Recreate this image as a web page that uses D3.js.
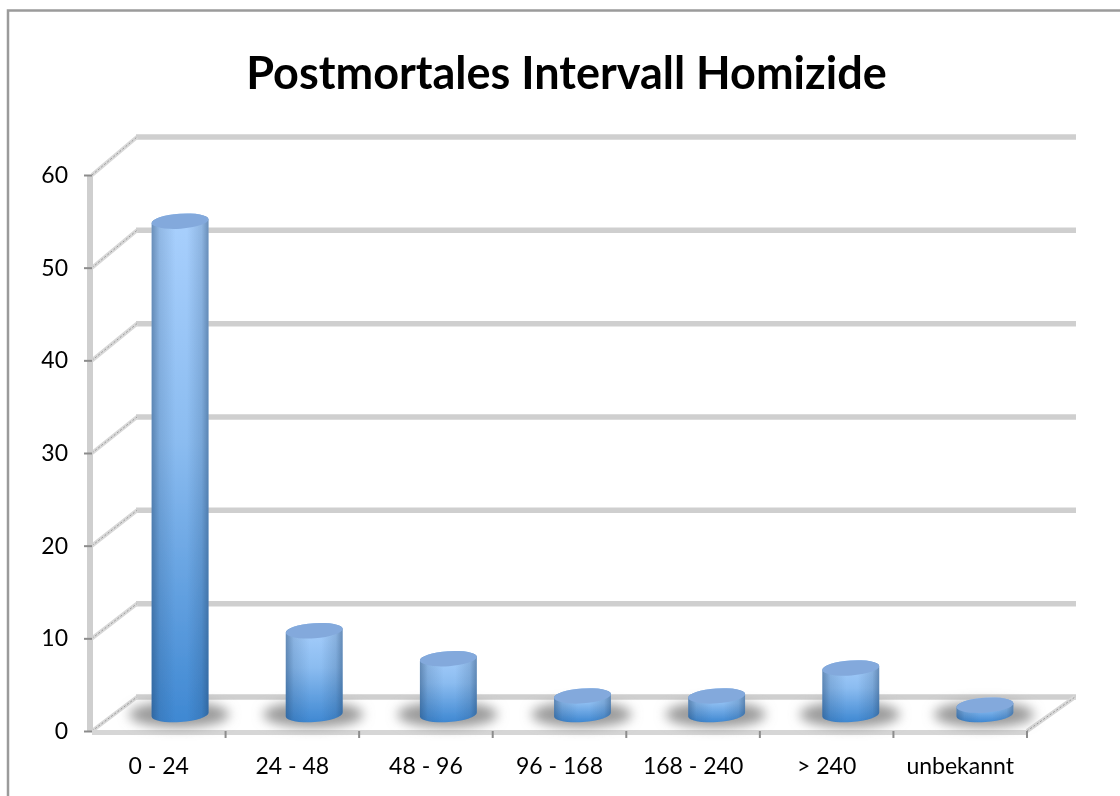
<!DOCTYPE html>
<html>
<head>
<meta charset="utf-8">
<script src="https://cdn.jsdelivr.net/npm/d3@7"></script>
<style>
    body { margin: 0; background: #fff; }
    text { font-family: Lato, "Open Sans", sans-serif; fill: #000; }
</style>
</head>
<body>
<div id="chart"></div>
<script>
// chart data
const categories = ["0 - 24", "24 - 48", "48 - 96", "96 - 168", "168 - 240", "> 240", "unbekannt"];
const values = [53, 9, 6, 2, 2, 5, 1];
const yTicks = [0, 10, 20, 30, 40, 50, 60];
const title = "Postmortales Intervall Homizide";

const WIDTH = 1120;
const HEIGHT = 796;

// the 3d box: front plane, back wall, and the plane the bars stand in
const FRONT = { left: 92, right: 1027, y0: 731, y60: 175 };
const DEPTH = { x: 45, y: -34 };
const BAR_RX = 28.5;
const BAR_RY = 7.5;
const TILT_DEG = -4;
const TILT = -TILT_DEG * Math.PI / 180;

const x = d3.scaleBand().domain(categories).range([FRONT.left, FRONT.right]);
const xMid = d3.scaleBand().domain(categories).range([113, 1052]);
const yFront = d3.scaleLinear().domain([0, 60]).range([FRONT.y0, FRONT.y60]);
const yBack = d3.scaleLinear().domain([0, 60]).range([FRONT.y0 + DEPTH.y, FRONT.y60 + DEPTH.y - 4]);
const yMid = d3.scaleLinear().domain([0, 60]).range([714.5, 156]);

const svg = d3.select("#chart").append("svg")
    .attr("width", WIDTH)
    .attr("height", HEIGHT)
    .style("display", "block");

const defs = svg.append("defs");

const addGradient = (id, x2, y2, stops) => {
    const g = defs.append("linearGradient")
        .attr("id", id)
        .attr("x1", 0).attr("y1", 0)
        .attr("x2", x2).attr("y2", y2);
    stops.forEach(s => g.append("stop")
        .attr("offset", s[0])
        .attr("stop-color", s[1])
        .attr("stop-opacity", s[2]));
};

addGradient("bodyFill", 0, 1, [[0, "#a9d0fd", 1], [0.45, "#8bbcf0", 1], [1, "#3f88d2", 1]]);
addGradient("bodyEdge", 1, 0, [
    [0, "#1d3f66", 0.45], [0.14, "#1d3f66", 0.16], [0.42, "#1d3f66", 0],
    [0.62, "#1d3f66", 0], [0.88, "#1d3f66", 0.18], [1, "#1d3f66", 0.45]
]);

defs.append("filter").attr("id", "shadowBlur")
    .attr("x", "-30%").attr("y", "-80%").attr("width", "160%").attr("height", "260%")
    .append("feGaussianBlur").attr("stdDeviation", 6);
defs.append("filter").attr("id", "soft")
    .append("feGaussianBlur").attr("stdDeviation", 0.5);
defs.append("filter").attr("id", "softText")
    .attr("x", "-5%").attr("y", "-5%").attr("width", "110%").attr("height", "110%")
    .append("feGaussianBlur").attr("stdDeviation", 0.35);

// outer frame, open on the right and at the bottom
svg.append("path")
    .attr("d", `M8,${HEIGHT}V10.5H${WIDTH}`)
    .attr("fill", "none")
    .attr("stroke", "#9b9b9b")
    .attr("stroke-width", 2.5);

svg.append("text")
    .attr("x", 566.5)
    .attr("y", 89)
    .attr("text-anchor", "middle")
    .attr("font-size", 45)
    .attr("font-weight", 700)
    .attr("filter", "url(#softText)")
    .text(title);

const grid = svg.append("g").attr("filter", "url(#soft)");

// back wall lines
grid.selectAll(".back")
    .data(yTicks)
    .enter()
    .append("line")
    .attr("class", "back")
    .attr("x1", FRONT.left + DEPTH.x - 1)
    .attr("x2", FRONT.right + DEPTH.x + 4)
    .attr("y1", d => yBack(d))
    .attr("y2", d => yBack(d))
    .attr("stroke", "#cfcfcf")
    .attr("stroke-width", 5.5);

// side wall depth lines
[["#d8d8d8", 4, null], ["#9a9a9a", 1, "2 2"]].forEach(s => {
    grid.selectAll(".depth" + s[1])
        .data(yTicks)
        .enter()
        .append("line")
        .attr("class", "depth" + s[1])
        .attr("x1", FRONT.left)
        .attr("x2", FRONT.left + DEPTH.x)
        .attr("y1", d => yFront(d))
        .attr("y2", d => yBack(d))
        .attr("stroke", s[0])
        .attr("stroke-width", s[1])
        .attr("stroke-dasharray", s[2]);

    grid.append("line")
        .attr("x1", FRONT.right)
        .attr("x2", FRONT.right + DEPTH.x + 3)
        .attr("y1", yFront(0))
        .attr("y2", yBack(0))
        .attr("stroke", s[0])
        .attr("stroke-width", s[1])
        .attr("stroke-dasharray", s[2]);
});

// front vertical wall and floor edge
grid.append("line")
    .attr("x1", FRONT.left - 2)
    .attr("x2", FRONT.left - 2)
    .attr("y1", yFront(60))
    .attr("y2", yFront(0))
    .attr("stroke", "#cfcfcf")
    .attr("stroke-width", 6);

grid.append("line")
    .attr("x1", FRONT.left)
    .attr("x2", FRONT.right)
    .attr("y1", yFront(0) + 1.5)
    .attr("y2", yFront(0) + 1.5)
    .attr("stroke", "#d6d6d6")
    .attr("stroke-width", 5);

// y axis, labels and small ticks
const yAxis = d3.axisLeft(yFront)
    .tickValues(yTicks)
    .tickSize(8)
    .tickPadding(16);

const yAxisG = svg.append("g")
    .attr("transform", `translate(${FRONT.left},0)`)
    .call(yAxis);
yAxisG.select(".domain").remove();
yAxisG.selectAll("line").attr("stroke", "#8c8c8c").attr("stroke-width", 2);
yAxisG.selectAll("text")
    .attr("font-size", 23)
    .attr("font-family", "Lato")
    .attr("fill", "#000")
    .attr("filter", "url(#softText)");

// x axis, labels centered in the band, ticks on the band edges
const xAxis = d3.axisBottom(x)
    .tickSize(0)
    .tickPadding(27);

const xAxisG = svg.append("g")
    .attr("transform", `translate(0,${FRONT.y0})`)
    .call(xAxis);
xAxisG.select(".domain").remove();
xAxisG.selectAll("text")
    .attr("font-size", 23)
    .attr("font-family", "Lato")
    .attr("fill", "#000")
    .attr("filter", "url(#softText)");

xAxisG.selectAll(".edge")
    .data(categories)
    .enter()
    .append("line")
    .attr("class", "edge")
    .attr("x1", d => x(d) + x.step())
    .attr("x2", d => x(d) + x.step())
    .attr("y1", 0)
    .attr("y2", 7)
    .attr("stroke", "#8c8c8c")
    .attr("stroke-width", 2);

// bars are cylinders standing half way into the box
const barCx = d => xMid(d) + xMid.bandwidth() / 2;
const dx = BAR_RX * Math.cos(TILT);
const dy = BAR_RX * Math.sin(TILT);

const bodyPath = (c, yTop) => {
    const cx = barCx(c);
    const yBot = yMid(0);
    return `M${cx - dx},${yTop + dy}`
        + `L${cx - dx},${yBot + dy}`
        + `A${BAR_RX},${BAR_RY} ${TILT_DEG} 0 0 ${cx + dx},${yBot - dy}`
        + `L${cx + dx},${yTop - dy}`
        + `A${BAR_RX},${BAR_RY} ${TILT_DEG} 0 0 ${cx - dx},${yTop + dy}Z`;
};

const barData = categories.map((c, i) => ({ c: c, v: values[i] }));

svg.append("g").selectAll("ellipse")
    .data(barData)
    .enter()
    .append("ellipse")
    .attr("cx", d => barCx(d.c) - 1)
    .attr("cy", yMid(0))
    .attr("rx", 50)
    .attr("ry", 13)
    .attr("fill", "#9a9a9a")
    .attr("filter", "url(#shadowBlur)");

const bars = svg.append("g").attr("filter", "url(#soft)")
    .selectAll("g")
    .data(barData)
    .enter()
    .append("g");

bars.append("path")
    .attr("d", d => bodyPath(d.c, yMid(d.v)))
    .attr("fill", "url(#bodyFill)");

bars.append("path")
    .attr("d", d => bodyPath(d.c, yMid(d.v)))
    .attr("fill", "url(#bodyEdge)");

bars.append("ellipse")
    .attr("rx", BAR_RX)
    .attr("ry", BAR_RY)
    .attr("transform", d => `translate(${barCx(d.c)},${yMid(d.v)}) rotate(${TILT_DEG})`)
    .attr("fill", "#83a9dc");
</script>
</body>
</html>
